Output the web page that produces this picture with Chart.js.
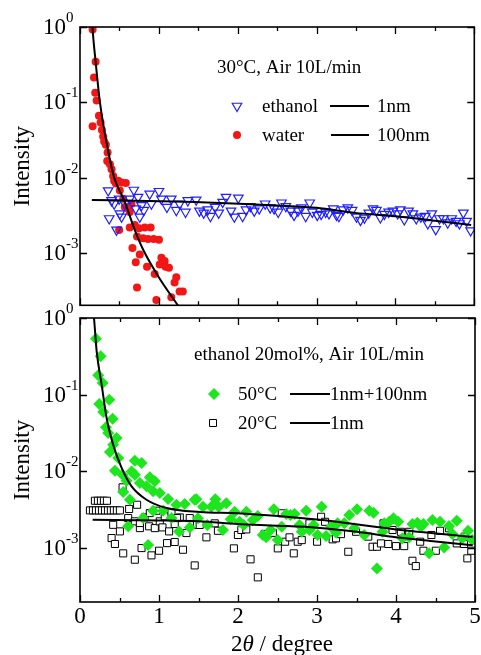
<!DOCTYPE html>
<html><head><meta charset="utf-8">
<script src="https://cdn.jsdelivr.net/npm/chart.js@4/dist/chart.umd.min.js"></script>
<style>
html,body{margin:0;padding:0;background:#fff;}
#wrap{position:relative;width:481px;height:655px;overflow:hidden;background:#fff;}
canvas{position:absolute;left:0;}
#c1{top:0;} #c2{top:300px;}
</style></head><body>
<div id="wrap"><canvas id="c1" width="481" height="312"></canvas><canvas id="c2" width="481" height="355"></canvas></div>
<script>
// ---------- Data ----------
const xTickVals = [0,0.5,1,1.5,2,2.5,3,3.5,4,4.5,5];
const xTickLabels = ['0','1','2','3','4','5'];
const yTicksTop = [1,0.1,0.01,0.001];
const yTicksBottom = [1,0.1,0.01,0.001];
const yTickExps = ['0','-1','-2','-3'];

// top panel: 30°C, Air 10L/min
const ethanolX = [0.357,0.400,0.433,0.496,0.370,0.463,0.505,0.527,0.568,0.631,0.682,0.736,0.707,0.779,0.758,0.808,0.884,0.905,1.001,1.032,1.102,1.158,1.221,1.263,1.338,1.367,
1.473,1.515,1.569,1.620,1.654,1.713,1.759,1.809,1.852,1.915,1.957,2.008,2.062,2.105,2.159,2.210,2.273,2.348,2.412,2.462,2.513,2.554,2.610,2.673,2.715,2.765,2.807,2.862,2.913,2.946,3.009,3.059,3.115,3.157,3.211,3.254,
3.283,3.337,3.396,3.451,3.506,3.557,3.607,3.662,3.716,3.759,3.809,3.860,3.914,3.968,4.028,4.062,4.112,4.167,4.221,4.264,4.322,4.378,4.410,4.461,4.511,4.558,4.609,4.663,4.713,4.769,4.811,4.861,4.903,4.953];
const ethanolY = [0.00678,0.00501,0.00453,0.00526,0.00289,0.00204,0.00336,0.00304,0.00453,0.00526,0.00690,0.00554,0.00390,0.00432,0.00304,0.00372,0.00612,0.00453,0.00664,0.00526,0.00410,0.00526,0.00372,0.00453,0.00353,0.00501,
0.00511,0.00364,0.00343,0.00378,0.00310,0.00410,0.00343,0.00477,0.00554,0.00364,0.00304,0.00542,0.00310,0.00378,0.00419,0.00364,0.00390,0.00453,0.00402,0.00390,0.00353,0.00467,0.00419,0.00364,0.00320,0.00364,0.00402,0.00310,0.00467,0.00353,0.00320,0.00330,0.00353,0.00336,0.00390,0.00320,
0.00310,0.00378,0.00402,0.00372,0.00304,0.00275,0.00295,0.00343,0.00390,0.00372,0.00298,0.00330,0.00353,0.00364,0.00336,0.00378,0.00280,0.00364,0.00336,0.00289,0.00304,0.00310,0.00248,0.00336,0.00207,0.00289,0.00289,0.00254,0.00289,0.00267,0.00248,0.00343,0.00267,0.00200];
const waterX = [0.160,0.198,0.177,0.193,0.211,0.240,0.160,0.261,0.278,0.294,0.307,0.328,0.350,0.345,0.379,0.400,0.420,0.433,0.455,0.484,0.527,0.581,0.505,0.547,0.568,0.610,0.631,0.653,0.496,0.631,0.694,0.749,0.821,0.896,0.723,0.799,0.862,0.934,1.001,0.665,0.758,0.707,1.032,1.044,1.073,1.010,1.086,1.128,0.850,0.947,1.221,1.199,0.723,1.263,1.304,1.158,0.968];
const waterY = [0.93,0.347,0.214,0.134,0.106,0.0664,0.0482,0.0543,0.0431,0.0353,0.0304,0.0275,0.0216,0.0167,0.0151,0.0130,0.0106,0.00915,0.00844,0.00915,0.00869,0.00851,0.00678,0.00526,0.00410,0.00390,0.00353,0.00453,0.00204,0.00220,0.00237,0.00214,0.00220,0.00220,0.00167,0.00158,0.00154,0.00154,0.00151,0.00117,0.00096,0.00076,0.00087,0.00075,0.00079,0.00071,0.00066,0.00064,0.00066,0.00053,0.00048,0.00041,0.00035,0.00031,0.00031,0.00026,0.00024];
const fit1nmTopX = [0.15,1.0,1.45,2.02,2.5,3.0,3.49,4.0,4.5,4.96];
const fit1nmTopY = [0.0051,0.0049,0.00477,0.00453,0.0043,0.0040,0.00343,0.0031,0.0027,0.00237];
const fit100nmX = [0.155,0.16,0.198,0.2525,0.358,0.433,0.568,0.694,0.80,0.989,1.241,1.30];
const fit100nmY = [1.15,0.93,0.347,0.101,0.0225,0.0101,0.0048,0.00204,0.00112,0.0005,0.000204,0.000166];

// bottom panel: ethanol 20mol%, Air 10L/min
const t50X = [0.202,0.261,0.231,0.287,0.244,0.370,0.294,0.413,0.328,0.357,0.463,0.420,0.379,0.484,0.694,0.779,0.442,0.539,0.653,0.694,0.884,0.947,0.590,0.758,0.842,0.547,1.010,0.926,0.631,1.115,1.221,1.326,1.452,0.926,1.052,1.158,0.610,1.254,1.389,0.862,0.799,
1.473,1.557,1.612,1.663,1.713,1.755,1.809,1.852,1.907,1.957,2.020,2.074,2.105,2.188,2.251,2.314,2.357,2.412,2.453,2.504,2.554,2.610,2.664,2.715,2.778,2.807,2.862,2.904,2.958,3.009,3.059,3.115,3.178,3.241,1.494,
3.261,3.346,3.409,3.472,3.506,3.598,3.662,3.716,3.759,3.830,3.851,3.914,3.968,4.028,4.082,4.167,4.208,4.271,4.314,4.347,4.419,4.461,4.558,4.609,4.672,4.713,4.769,4.840,4.912,4.966];
const t50Y = [0.537,0.316,0.179,0.142,0.0755,0.0860,0.0594,0.0486,0.0375,0.0316,0.0272,0.0223,0.0179,0.0149,0.0138,0.0129,0.0102,0.00904,0.0100,0.00904,0.00836,0.00741,0.00755,0.00705,0.00638,0.00538,0.00521,0.00549,0.00427,0.00436,0.00367,0.00375,0.00427,0.00307,0.00307,0.00246,0.00192,0.00165,0.00186,0.00110,0.00246,
0.00432,0.00346,0.00200,0.00346,0.00432,0.00346,0.00172,0.00383,0.00237,0.00298,0.00220,0.00200,0.00298,0.00232,0.00261,0.00148,0.00138,0.00172,0.00320,0.00127,0.00190,0.00278,0.00270,0.00278,0.00200,0.00163,0.00307,0.00172,0.00200,0.00148,0.00346,0.00144,0.00190,0.00158,0.00244,
0.00210,0.00210,0.00270,0.00181,0.00320,0.00148,0.00307,0.00289,0.000543,0.00163,0.00210,0.00220,0.00244,0.00220,0.00134,0.00138,0.00206,0.00214,0.00190,0.00206,0.000853,0.00232,0.00220,0.00102,0.00194,0.00152,0.00227,0.00134,0.00168,0.00127];
const t20X = [0.189,0.227,0.265,0.303,0.341,0.126,0.164,0.202,0.240,0.278,0.316,0.354,0.391,0.429,0.467,0.505,
0.539,0.622,0.723,0.420,0.505,0.610,0.694,0.758,0.821,0.875,0.947,1.010,1.044,1.128,1.199,1.263,1.347,0.400,0.442,0.779,0.905,1.001,1.102,1.199,1.304,0.547,0.694,1.452,0.758,0.884,0.968,1.073,1.158,1.229,1.389,1.481,
1.515,1.600,1.705,1.746,1.948,1.999,2.042,2.105,2.159,2.251,2.336,2.441,2.504,2.554,2.597,2.652,2.706,2.756,2.807,2.904,3.001,3.052,3.102,3.198,
3.241,3.304,3.396,3.494,3.649,3.703,3.759,3.809,3.842,3.902,3.956,3.999,4.062,4.104,4.167,4.208,4.251,4.306,4.347,4.448,4.504,4.558,4.672,4.769,4.861,4.870,4.903,4.953];
const t20Y = [0.00414,0.00414,0.00414,0.00414,0.00414,0.00310,0.00310,0.00310,0.00310,0.00310,0.00310,0.00310,0.00310,0.00310,0.00310,0.00310,
0.00619,0.00323,0.00367,0.00201,0.00165,0.00246,0.00223,0.00182,0.00251,0.00192,0.00182,0.00223,0.00186,0.00165,0.00206,0.00251,0.00157,0.00135,0.00113,0.00100,0.000803,0.000923,0.00116,0.00120,0.000951,0.000853,0.000705,0.000594,0.00212,0.00286,0.00307,0.00259,0.00295,0.00246,0.00246,0.00201,
0.00200,0.00138,0.00210,0.00168,0.000991,0.00148,0.00172,0.00175,0.000713,0.000415,0.00152,0.00158,0.000991,0.00284,0.00121,0.00138,0.000853,0.00121,0.00127,0.00210,0.00121,0.00256,0.00220,0.00130,
0.00134,0.00152,0.000895,0.00163,0.00141,0.00104,0.00104,0.00115,0.00210,0.00113,0.00172,0.00106,0.00163,0.00106,0.00163,0.000683,0.000582,0.00121,0.000923,0.00148,0.000923,0.00168,0.00181,0.00115,0.00113,0.00141,0.000734,0.000923];
const fit50X = [0.17,0.177,0.211,0.274,0.337,0.42,0.527,0.653,0.842,1.095,1.515,2.0,3.0,4.0,4.97];
const fit50Y = [1.15,1.0,0.368,0.135,0.0497,0.0223,0.0111,0.00638,0.00427,0.00333,0.00295,0.00284,0.00235,0.00175,0.00140];
const fit20X = [0.16,1.0,1.5,2.0,2.5,3.0,3.5,4.0,4.5,4.97];
const fit20Y = [0.00234,0.00229,0.00223,0.00206,0.00196,0.00184,0.00163,0.00138,0.00122,0.00109];

// ---------- helpers ----------
const FONT = '"Liberation Serif","Times New Roman",serif';
const pts = (xs, ys) => xs.map((x, i) => ({x, y: ys[i]}));
const C_BLUE = '#1f1fff', C_RED = '#f21616', C_GREEN = '#1ee61e';

function drawMarker(ctx, kind, x, y){
  ctx.save();
  ctx.beginPath();
  if (kind === 'tri'){
    const r = 5.5;
    ctx.moveTo(x, y + r);
    ctx.lineTo(x - r*0.866, y - r*0.5);
    ctx.lineTo(x + r*0.866, y - r*0.5);
    ctx.closePath();
    ctx.strokeStyle = C_BLUE; ctx.lineWidth = 1.2; ctx.stroke();
  } else if (kind === 'dot'){
    ctx.arc(x, y, 4, 0, Math.PI*2); ctx.fillStyle = C_RED; ctx.fill();
  } else if (kind === 'dia'){
    const r = 6;
    ctx.moveTo(x, y - r); ctx.lineTo(x + r, y); ctx.lineTo(x, y + r); ctx.lineTo(x - r, y); ctx.closePath();
    ctx.fillStyle = C_GREEN; ctx.fill();
  } else if (kind === 'sq'){
    ctx.rect(x - 3.5, y - 3.5, 7, 7);
    ctx.fillStyle = '#fff'; ctx.fill();
    ctx.strokeStyle = '#000'; ctx.lineWidth = 1; ctx.stroke();
  }
  ctx.restore();
}

function decorPlugin(o){
  return {
    id: 'decor',
    afterDatasetsDraw(chart){
      const {ctx, chartArea: a, scales: {x, y}} = chart;
      ctx.save();
      // ticks
      ctx.strokeStyle = '#000'; ctx.lineWidth = 1.3;
      ctx.beginPath();
      xTickVals.forEach(v => {
        const px = Math.round(x.getPixelForValue(v)) + 0.5;
        const L = Number.isInteger(v) ? 7 : 4;
        ctx.moveTo(px, a.bottom); ctx.lineTo(px, a.bottom - L);
        ctx.moveTo(px, a.top); ctx.lineTo(px, a.top + L);
      });
      o.yTicks.forEach(v => {
        const py = Math.round(y.getPixelForValue(v)) + 0.5;
        ctx.moveTo(a.left, py); ctx.lineTo(a.left + 7, py);
        ctx.moveTo(a.right, py); ctx.lineTo(a.right - 7, py);
      });
      ctx.stroke();
      ctx.lineWidth = 1.6;
      ctx.strokeRect(a.left, a.top, a.right - a.left, a.bottom - a.top);

      ctx.fillStyle = '#000';
      // y tick labels
      o.yTicks.forEach((v, i) => {
        const py = y.getPixelForValue(v);
        ctx.font = '23px ' + FONT; ctx.textAlign = 'left'; ctx.textBaseline = 'middle';
        ctx.fillText('10', 43, py + 1);
        const w = ctx.measureText('10').width;
        ctx.font = '15px ' + FONT;
        ctx.fillText(yTickExps[i], 43 + w, py - 9);
      });
      // y title
      ctx.save();
      ctx.translate(23, (a.top + a.bottom) / 2);
      ctx.rotate(-Math.PI / 2);
      ctx.font = '23px ' + FONT; ctx.textAlign = 'center'; ctx.textBaseline = 'middle';
      ctx.fillText('Intensity', 0, 0);
      ctx.restore();

      // x tick labels and title
      if (o.xLabels){
        ctx.font = '23px ' + FONT; ctx.textAlign = 'center'; ctx.textBaseline = 'middle';
        xTickLabels.forEach(t => {
          ctx.fillText(t, x.getPixelForValue(Number(t)), a.bottom + 15);
        });
        const parts = [['2', '23px ' + FONT], ['\u03B8', 'italic 23px ' + FONT], [' / degree', '23px ' + FONT]];
        let tw = 0;
        parts.forEach(p => { ctx.font = p[1]; tw += ctx.measureText(p[0]).width; });
        let cx = 282 - tw / 2;
        ctx.textAlign = 'left';
        parts.forEach(p => { ctx.font = p[1]; ctx.fillText(p[0], cx, 345); cx += ctx.measureText(p[0]).width; });
      }

      // annotation + legend
      ctx.font = '19px ' + FONT; ctx.textAlign = 'left'; ctx.textBaseline = 'middle';
      ctx.fillText(o.title.text, o.title.x, o.title.y);
      o.legend.forEach(r => {
        drawMarker(ctx, r.marker, r.mx, r.y);
        ctx.fillStyle = '#000';
        ctx.font = '19px ' + FONT; ctx.textAlign = 'left'; ctx.textBaseline = 'middle';
        ctx.fillText(r.text, r.tx, r.y + 1);
        ctx.strokeStyle = '#000'; ctx.lineWidth = 2;
        ctx.beginPath(); ctx.moveTo(r.l1, r.y); ctx.lineTo(r.l2, r.y); ctx.stroke();
        ctx.fillText(r.fit, r.fx, r.y + 1);
      });
      ctx.restore();
    }
  };
}

function baseOptions(pad, ymin){
  return {
    responsive: false, animation: false, devicePixelRatio: 1,
    layout: {padding: pad},
    scales: {
      x: {type: 'linear', min: 0, max: 5, display: false},
      y: {type: 'logarithmic', min: ymin, max: 1, display: false}
    },
    plugins: {legend: {display: false}, tooltip: {enabled: false}}
  };
}
function fitLine(xs, ys){
  return {data: pts(xs, ys), showLine: true, pointRadius: 0, borderColor: '#000', borderWidth: 2,
          cubicInterpolationMode: 'monotone', order: 0};
}

// ---------- top chart ----------
new Chart(document.getElementById('c1'), {
  type: 'scatter',
  data: {datasets: [
    fitLine(fit1nmTopX, fit1nmTopY),
    fitLine(fit100nmX, fit100nmY),
    {data: pts(ethanolX, ethanolY), pointStyle: 'triangle', rotation: 180, pointRadius: 5.5,
     borderColor: C_BLUE, backgroundColor: 'rgba(0,0,0,0)', borderWidth: 1.2, order: 1},
    {data: pts(waterX, waterY), pointStyle: 'circle', pointRadius: 4,
     borderColor: C_RED, backgroundColor: C_RED, borderWidth: 0, order: 2}
  ]},
  options: baseOptions({left: 80, right: 5, top: 27, bottom: 2}, 2.04e-4),
  plugins: [decorPlugin({
    yTicks: yTicksTop, xLabels: false,
    title: {text: '30\u00B0C, Air 10L/min', x: 217, y: 68},
    legend: [
      {marker: 'tri', mx: 237, y: 106, text: 'ethanol', tx: 262, l1: 330, l2: 369, fit: '1nm', fx: 377},
      {marker: 'dot', mx: 237, y: 135, text: 'water', tx: 262, l1: 331, l2: 369, fit: '100nm', fx: 377}
    ]
  })]
});

// ---------- bottom chart ----------
new Chart(document.getElementById('c2'), {
  type: 'scatter',
  data: {datasets: [
    fitLine(fit50X, fit50Y),
    fitLine(fit20X, fit20Y),
    {data: pts(t50X, t50Y), pointStyle: 'rectRot', pointRadius: 6,
     borderColor: C_GREEN, backgroundColor: C_GREEN, borderWidth: 0, order: 1},
    {data: pts(t20X, t20Y), pointStyle: 'rect', pointRadius: 5,
     borderColor: '#000', backgroundColor: '#fff', borderWidth: 1, order: 2}
  ]},
  options: baseOptions({left: 80, right: 5, top: 18, bottom: 53}, 1.98e-4),
  plugins: [decorPlugin({
    yTicks: yTicksBottom, xLabels: true,
    title: {text: 'ethanol 20mol%, Air 10L/min', x: 194, y: 55},
    legend: [
      {marker: 'dia', mx: 214, y: 94, text: '50\u00B0C', tx: 238, l1: 290, l2: 330, fit: '1nm+100nm', fx: 330},
      {marker: 'sq', mx: 213, y: 123, text: '20\u00B0C', tx: 238, l1: 290, l2: 330, fit: '1nm', fx: 330}
    ]
  })]
});
</script>
</body></html>
